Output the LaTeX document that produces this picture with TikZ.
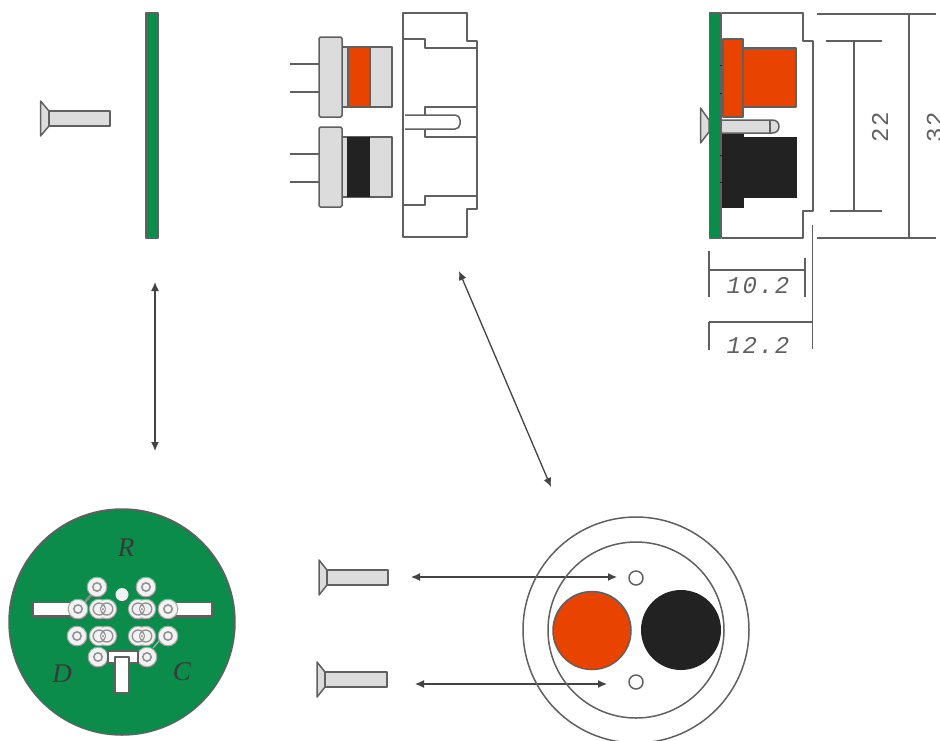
\documentclass[tikz,border=0pt]{standalone}
\usepackage{fontspec}
\setmainfont{Liberation Serif}
\newfontfamily\dimfont[LetterSpace=7]{Liberation Mono}
\definecolor{pcb}{HTML}{0B8C4A}
\definecolor{redp}{HTML}{E84400}
\definecolor{blk}{HTML}{222222}
\definecolor{lgr}{HTML}{DCDCDC}
\definecolor{edge}{HTML}{606060}
\definecolor{padw}{HTML}{F2F2F2}
\usetikzlibrary{arrows.meta}
\tikzset{
  ln/.style={draw=edge,line width=1.5pt,line join=round},
  thin ln/.style={draw=edge,line width=1.2pt},
  part/.style={ln,fill=lgr},
  dbl/.style={draw=blk!85,line width=1.3pt,{Latex[length=9pt,width=8pt]}-{Latex[length=9pt,width=8pt]}},
  dimtxt/.style={font=\dimfont\fontsize{24}{24}\selectfont,text=edge,inner sep=0pt},
  dimital/.style={dimtxt,font=\dimfont\itshape\fontsize{24}{24}\selectfont},
  lett/.style={font=\itshape\fontsize{27}{27}\selectfont,text=blk!90,inner sep=0pt}
}
\newcommand{\screw}[4]{% head x, head end, shank end, y centre
  \draw[part] (#1,#4-17.5) -- (#2,#4-7.5) -- (#2,#4+7.5) -- (#1,#4+17.5) -- cycle;
  \draw[part] (#2,#4-7.5) rectangle (#3,#4+7.5);
}
\newcommand{\pad}[2]{%
  \draw[draw=black!35,line width=1pt,fill=padw] (#1,#2) circle (9.8);
  \draw[edge!70,line width=1.5pt] (#1,#2) circle (4.2);
}
\newcommand{\dpad}[2]{%
  \draw[draw=black!35,line width=1pt,fill=padw] (#1-3.8,#2) circle (9.8);
  \draw[draw=black!35,line width=1pt,fill=padw] (#1+3.8,#2) circle (9.8);
  \fill[padw] (#1-3.8,#2) circle (9);
  \draw[edge!70,line width=1.3pt] (#1-3.8,#2) circle (6);
  \draw[edge!70,line width=1.3pt] (#1+3.8,#2) circle (6);
  \fill[padw] (#1,#2) circle (2);
  \fill[edge!80] (#1,#2) circle (1);
}
\begin{document}
\begin{tikzpicture}[x=1pt,y=-1pt]
\useasboundingbox (0,0) rectangle (940,740);
\clip (0,0) rectangle (940,740);
\fill[white] (0,0) rectangle (940,740);

% top-left screw and board
\screw{40.5}{49}{110}{118.5}
\draw[ln,fill=pcb] (146,13) rectangle (158,238);

% top-middle connectors
\foreach \y in {64,92,154,182} \draw[thin ln] (290,\y) -- (319,\y);
\draw[part] (342,47) rectangle (392,107);
\fill[redp] (348,47.6) rectangle (370,106.4);
\draw[ln] (348,47) -- (348,107) (370,47) -- (370,107);
\draw[part,rounded corners=1.5pt] (319,37) rectangle (342,117);
\draw[part] (342,137) rectangle (392,197);
\fill[blk] (347,137) rectangle (370,197);
\draw[part,rounded corners=1.5pt] (319,127) rectangle (342,207);

% top-middle housing
\draw[ln] (403,13) -- (467,13) -- (467,41) -- (477,41) -- (477,209) -- (467,209) -- (467,237) -- (403,237) -- cycle;
\draw[ln] (403,39) -- (425,39) -- (425,48) -- (477,48);
\draw[ln] (403,205) -- (425,205) -- (425,196) -- (477,196);
\draw[ln] (425,115) -- (425,107) -- (477,107);
\draw[ln] (425,129) -- (425,137) -- (477,137);
\draw[ln,rounded corners=5pt] (405,115) -- (460,115) -- (460,129) -- (405,129);

% top-right assembly
\draw[ln] (722,13) -- (803,13) -- (803,41) -- (813,41) -- (813,211) -- (803,211) -- (803,238) -- (722,238);
\draw[ln,fill=pcb] (709.5,13) rectangle (721,238);
\draw[part] (700.5,108) -- (709,120) -- (709,132) -- (700.5,143) -- cycle;
\draw[ln,fill=redp] (743,48) rectangle (796,107);
\draw[ln,fill=redp] (723,39) rectangle (743,117);
\draw[draw=blk,fill=blk] (722,134) rectangle (743,207);
\draw[draw=blk,fill=blk] (743,137) rectangle (796,197);
\draw[ln,fill=lgr] (721,120) -- (772,120) .. controls (777,120) and (779,123) .. (779,126.5) .. controls (779,130) and (777,133) .. (772,133) -- (721,133) -- cycle;
\draw[thin ln] (770,120) -- (770,133);
\foreach \y in {65,93,155,182} \draw[blk,line width=1pt] (720,\y) -- (722,\y);

% dimensions
\draw[ln] (817,14) -- (936,14) (817,238) -- (936,238) (909,14) -- (909,238);
\draw[ln] (826,41) -- (882,41) (830,211) -- (882,211) (854,41) -- (854,211);
\node[dimtxt,rotate=90] (d22) at (880,127) {22};
\node[dimtxt,rotate=90] (d32) at (935,127) {32};
\draw[ln] (709,251) -- (709,297) (805,258) -- (805,297) (709,270) -- (805,270);
\draw[ln] (709,322) -- (709,350) (812.5,225) -- (812.5,349) (709,322) -- (812.5,322);
\node[dimital] (d10) at (758,286) {10.2};
\node[dimital] (d12) at (758,345) {12.2};

% arrows
\coordinate (a1) at (155,282); \coordinate (a2) at (155,451);
\draw[dbl] (a1) -- (a2);
\coordinate (b1) at (459,271); \coordinate (b2) at (551,487);
\draw[dbl] (b1) -- (b2);

% bottom-left board
\draw[ln,fill=pcb] (122,622) circle (113);
\draw[ln,fill=white] (33,602) rectangle (72,616);
\draw[ln,fill=white] (172,602) rectangle (212,616);
\draw[draw=black!45,line width=2.5pt] (84,603) -- (92,594);
\draw[white!70!black,line width=1.2pt] (153,648) -- (160,640);
\foreach \x/\y in {97/587,146/587,78/609,168/609,77/636,168/636,98/657,147/657} { \pad{\x}{\y} }
\foreach \x/\y in {103/609,142/609,103/636,142/636} { \dpad{\x}{\y} }
\draw[ln,fill=white] (108,651) rectangle (138,663);
\draw[ln,fill=white] (115,657) rectangle (129,693);
\fill[padw] (122,594.5) circle (6.5);
\node[lett] (R) at (126,548) {R};
\node[lett] (D) at (62,674) {D};
\node[lett] (C) at (182,672) {C};

% bottom-middle screws
\screw{319}{327}{388}{577.5}
\screw{317}{325}{387}{679.5}
\coordinate (c1) at (411,577); \coordinate (c2) at (617,577);
\draw[dbl] (c1) -- (c2);
\coordinate (e1) at (415,684); \coordinate (e2) at (607,684);
\draw[dbl] (e1) -- (e2);

% bottom-right front view
\draw[ln] (636,630) circle (113);
\draw[ln] (636,630) circle (88);
\draw[ln,fill=redp] (592,630.5) circle (39);
\fill[blk] (681,630) circle (40);
\draw[ln,fill=white] (636,578) circle (7);
\draw[ln,fill=white] (636,682) circle (7);
\end{tikzpicture}
\end{document}
